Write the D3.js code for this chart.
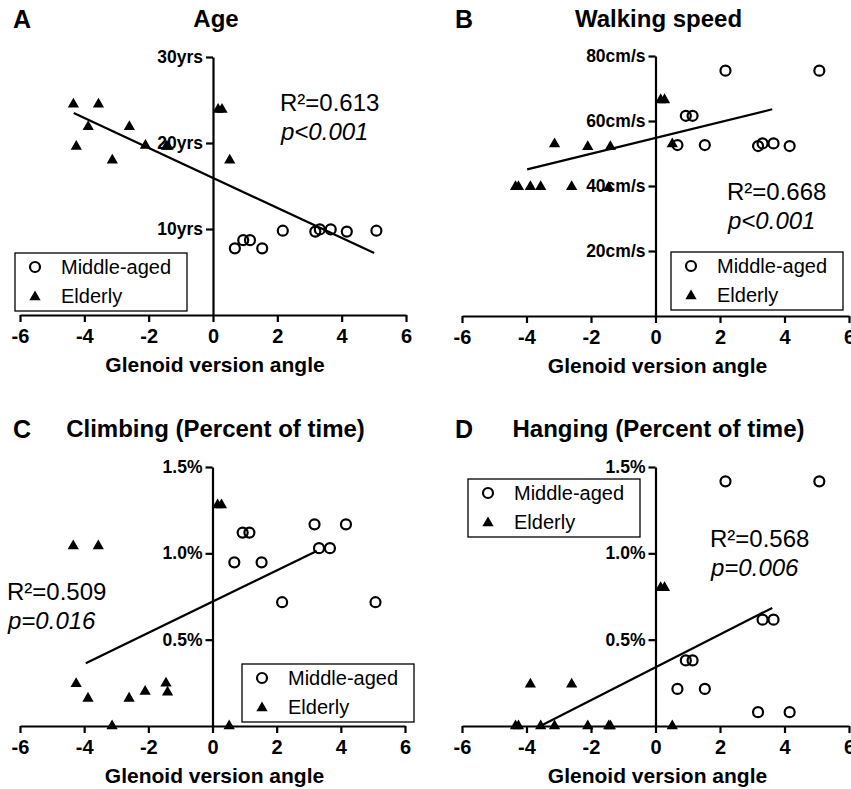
<!DOCTYPE html>
<html>
<head>
<meta charset="utf-8">
<script src="https://cdn.jsdelivr.net/npm/d3@7"></script>
<style>
  body { margin: 0; background: #fff; }
  svg text { font-family: "Liberation Sans", Arial, sans-serif; fill: #000; }
</style>
</head>
<body>
<div id="chart"></div>
<script>
// glenoid version angle of each animal (same animals in every panel)
const angleMid = [0.68, 0.94, 1.15, 1.53, 2.17, 3.18, 3.32, 3.66, 4.16, 5.08]
const angleOld = [-4.34, -4.25, -3.88, -3.56, -3.13, -2.6, -2.1, -1.45, -1.4, 0.16, 0.28, 0.52]

// panel A - age (yrs)
const ageMid = [7.75, 8.7, 8.7, 7.75, 9.8, 9.7, 9.95, 9.95, 9.7, 9.8]
const ageOld = [24.5, 19.6, 21.9, 24.5, 18.0, 21.9, 19.7, 19.6, 19.6, 23.9, 23.9, 18.0]
// panel B - walking speed (cm/s)
const speedMid = [52.6, 61.6, 61.6, 52.6, 75.5, 52.3, 53.1, 53.1, 52.3, 75.5]
const speedOld = [39.8, 39.8, 39.8, 39.8, 52.9, 39.8, 52.1, 39.5, 52.1, 66.5, 66.5, 52.9]
// panel C - climbing (% of time)
const climbMid = [0.948, 1.12, 1.12, 0.948, 0.717, 1.168, 1.03, 1.03, 1.168, 0.717]
const climbOld = [1.043, 0.245, 0.16, 1.043, 0, 0.16, 0.2, 0.247, 0.195, 1.28, 1.28, 0]
// panel D - hanging (% of time)
const hangMid = [0.215, 0.38, 0.38, 0.215, 1.417, 0.08, 0.616, 0.616, 0.08, 1.417]
const hangOld = [0, 0, 0.242, 0, 0, 0.242, 0, 0, 0, 0.8, 0.8, 0]

// regression lines, [angle, value] at both ends
const fitAge = [[-4.33, 23.5], [5.01, 7.2]]
const fitSpeed = [[-3.98, 45.1], [3.62, 63.6]]
const fitClimb = [[-3.95, 0.363], [3.25, 1.014]]
const fitHang = [[-3.57, 0], [3.62, 0.684]]

const xTicks = [-6, -4, -2, 0, 2, 4, 6]
const ageTicks = [10, 20, 30]
const speedTicks = [20, 40, 60, 80]
const pctTicks = [0.5, 1.0, 1.5]

const legendLabels = ["Middle-aged", "Elderly"]

const width = 851
const height = 789

const svg = d3.select("#chart").append("svg").attr("width", width).attr("height", height)

// layout of the 4 panels
const panels = [
  { letter: "A", title: "Age", xr: [20, 406], yr: [315, 57], ymax: 30, ticks: ageTicks, fmt: d => d + "yrs",
    mid: ageMid, old: ageOld, fit: fitAge, r2: "R²=0.613", p: "p<0.001",
    statPos: [280, 111], legPos: [15, 253], top: 0 },
  { letter: "B", title: "Walking speed", xr: [462, 849], yr: [316, 56], ymax: 80, ticks: speedTicks, fmt: d => d + "cm/s",
    mid: speedMid, old: speedOld, fit: fitSpeed, r2: "R²=0.668", p: "p<0.001",
    statPos: [727, 200], legPos: [671, 252], top: 0 },
  { letter: "C", title: "Climbing (Percent of time)", xr: [20, 405], yr: [726, 467], ymax: 1.5, ticks: pctTicks, fmt: d => d.toFixed(1) + "%",
    mid: climbMid, old: climbOld, fit: fitClimb, r2: "R²=0.509", p: "p=0.016",
    statPos: [7, 600], legPos: [242, 664], top: 410 },
  { letter: "D", title: "Hanging (Percent of time)", xr: [462, 849], yr: [726, 467], ymax: 1.5, ticks: pctTicks, fmt: d => d.toFixed(1) + "%",
    mid: hangMid, old: hangOld, fit: fitHang, r2: "R²=0.568", p: "p=0.006",
    statPos: [710, 547], legPos: [468, 479], top: 410 }
]

const tri = d3.symbol().type(d3.symbolTriangle).size(55)

function drawPanel(p) {
  const g = svg.append("g")
  const x = d3.scaleLinear().domain([-6, 6]).range(p.xr)
  const y = d3.scaleLinear().domain([0, p.ymax]).range(p.yr)

  // letter + title
  g.append("text").attr("x", p.xr[0] - 7).attr("y", p.top + 28)
    .attr("font-size", 25).attr("font-weight", "bold").text(p.letter)
  g.append("text").attr("x", x(0) + 3).attr("y", p.top + 27).attr("text-anchor", "middle")
    .attr("font-size", 24).attr("font-weight", "bold").text(p.title)

  // axes (plain hyphen for negatives, like the original)
  const xAxisG = g.append("g").attr("transform", `translate(0, ${y(0)})`)
    .call(d3.axisBottom(x).tickValues(xTicks).tickFormat(d => String(d)).tickSize(7).tickPadding(7).tickSizeOuter(0))
  const yAxisG = g.append("g").attr("transform", `translate(${x(0)}, 0)`)
    .call(d3.axisLeft(y).tickValues(p.ticks).tickFormat(p.fmt).tickSize(7).tickPadding(3).tickSizeOuter(0))
  xAxisG.selectAll("text").attr("font-size", 20).attr("font-weight", "bold").attr("font-family", "Liberation Sans, Arial")
  yAxisG.selectAll("text").attr("font-size", 17.5).attr("font-weight", "bold").attr("font-family", "Liberation Sans, Arial")
  g.selectAll(".domain, .tick line").attr("stroke", "#000").attr("stroke-width", 2.2)

  g.append("text").attr("x", x(0) + 2).attr("y", y(0) + 57).attr("text-anchor", "middle")
    .attr("font-size", 21).attr("font-weight", "bold").text("Glenoid version angle")

  // fit line
  g.append("line")
    .attr("x1", x(p.fit[0][0])).attr("y1", y(p.fit[0][1]))
    .attr("x2", x(p.fit[1][0])).attr("y2", y(p.fit[1][1]))
    .attr("stroke", "#000").attr("stroke-width", 2.2)

  // points
  g.selectAll(".mid").data(p.mid).enter().append("circle")
    .attr("cx", (d, i) => x(angleMid[i])).attr("cy", d => y(d)).attr("r", 5)
    .attr("fill", "none").attr("stroke", "#000").attr("stroke-width", 2.2)
  g.selectAll(".old").data(p.old).enter().append("path")
    .attr("d", tri).attr("transform", (d, i) => `translate(${x(angleOld[i])}, ${y(d)})`)
    .attr("fill", "#000")

  // R2 / p
  g.append("text").attr("x", p.statPos[0]).attr("y", p.statPos[1]).attr("font-size", 24).text(p.r2)
  g.append("text").attr("x", p.statPos[0] + 1).attr("y", p.statPos[1] + 29).attr("font-size", 24)
    .attr("font-style", "italic").text(p.p)

  // legend
  const lg = g.append("g").attr("transform", `translate(${p.legPos[0]}, ${p.legPos[1]})`)
  lg.append("rect").attr("width", 172).attr("height", 58).attr("fill", "#fff")
    .attr("stroke", "#000").attr("stroke-width", 1.3)
  lg.append("circle").attr("cx", 20).attr("cy", 14).attr("r", 5)
    .attr("fill", "none").attr("stroke", "#000").attr("stroke-width", 2.2)
  lg.append("path").attr("d", tri).attr("transform", "translate(20, 44)").attr("fill", "#000")
  lg.selectAll(".lab").data(legendLabels).enter().append("text")
    .attr("x", 46).attr("y", (d, i) => 21 + i * 29).attr("font-size", 20).text(d => d)
}

panels.forEach(drawPanel)
</script>
</body>
</html>
